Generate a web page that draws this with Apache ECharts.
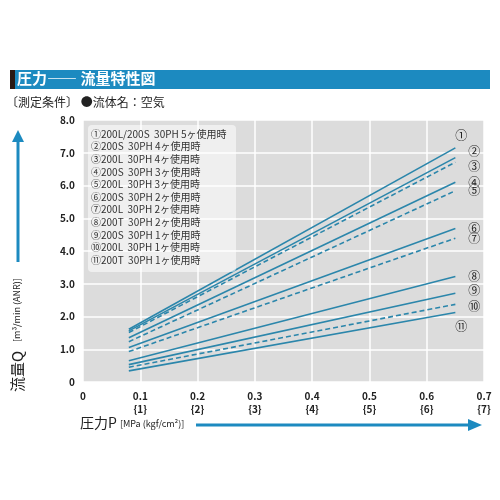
<!DOCTYPE html>
<html><head><meta charset="utf-8">
<script src="https://cdn.jsdelivr.net/npm/echarts@6/dist/echarts.min.js"></script>
<style>html,body{margin:0;background:#fff}#c{width:500px;height:500px}</style>
</head><body><div id="c"></div>
<script>
var chart = echarts.init(document.getElementById('c'));
var F = '"Noto Sans CJK JP", sans-serif';

var xStart = 0.08, xEnd = 0.65;
var names = ['①','②','③','④','⑤','⑥','⑦','⑧','⑨','⑩','⑪'];
var startQ = [1.61, 1.56, 1.51, 1.35, 1.23, 1.05, 0.93, 0.65, 0.53, 0.45, 0.34];
var endQ = [7.15, 6.85, 6.71, 6.10, 5.84, 4.69, 4.39, 3.22, 2.71, 2.37, 2.12];
var dashed = [false, false, true, false, true, false, true, false, false, true, false];
var legendLines = ['①200L/200S  30PH 5ヶ使用時','②200S  30PH 4ヶ使用時','③200L  30PH 4ヶ使用時',
  '④200S  30PH 3ヶ使用時','⑤200L  30PH 3ヶ使用時','⑥200S  30PH 2ヶ使用時','⑦200L  30PH 2ヶ使用時',
  '⑧200T  30PH 2ヶ使用時','⑨200S  30PH 1ヶ使用時','⑩200L  30PH 1ヶ使用時','⑪200T  30PH 1ヶ使用時'];

var color = '#2b86ab';
var offsets = { 0: [-8, -12], 1: [5, -6], 2: [5, 4], 8: [5, -3], 9: [5, 2], 10: [-8, 14] };
var series = names.map(function (n, i) {
  return {
    name: n, type: 'line', showSymbol: false, silent: true,
    data: [[xStart, startQ[i]], [xEnd, endQ[i]]],
    lineStyle: { color: color, width: 1.6, type: dashed[i] ? [5, 3] : 'solid' },
    endLabel: { show: true, formatter: n, offset: offsets[i] || [5, 0], color: '#222', fontSize: 12, fontFamily: F }
  };
});

var gfx = [
  { type: 'rect', shape: { x: 10, y: 70, width: 480, height: 19 }, style: { fill: '#1c8ac0' } },
  { type: 'rect', shape: { x: 10, y: 70, width: 5, height: 19 }, style: { fill: '#2a1a14' } },
  { type: 'text', x: 17, y: 71, style: { text: '圧力―― 流量特性図', fill: '#fff', font: 'bold 15px ' + F } },
  { type: 'text', x: 6, y: 96, style: { text: '〔測定条件〕 ●流体名：空気', fill: '#222', font: '12px ' + F } },
  { type: 'rect', shape: { x: 88, y: 125, width: 148, height: 147, r: 4 }, style: { fill: 'rgba(255,255,255,0.55)' }, z: 5 },
  { type: 'line', shape: { x1: 18, y1: 262, x2: 18, y2: 140 }, style: { stroke: '#1c8ac0', lineWidth: 3 } },
  { type: 'polygon', shape: { points: [[12, 142], [24, 142], [18, 130]] }, style: { fill: '#1c8ac0' } },
  { type: 'text', x: 10, y: 392, rotation: Math.PI / 2, style: { text: '流量Q', fill: '#222', font: '15px ' + F } },
  { type: 'text', x: 12, y: 342, rotation: Math.PI / 2, style: { text: '[m³/min (ANR)]', fill: '#222', font: '9px ' + F } },
  { type: 'text', x: 80, y: 416, style: { text: '圧力P', fill: '#222', font: '14px ' + F } },
  { type: 'text', x: 120, y: 419, style: { text: '[MPa (kgf/cm²)]', fill: '#222', font: '9px ' + F } },
  { type: 'line', shape: { x1: 196, y1: 425, x2: 470, y2: 425 }, style: { stroke: '#1c8ac0', lineWidth: 3 } },
  { type: 'polygon', shape: { points: [[468, 419], [468, 431], [482, 425]] }, style: { fill: '#1c8ac0' } }
];
legendLines.forEach(function (t, i) {
  gfx.push({ type: 'text', x: 91, y: 129 + i * 12.6, z: 6, style: { text: t, fill: '#333', font: '10px ' + F } });
});

chart.setOption({
  animation: false,
  grid: { left: 83, right: 16, top: 120, bottom: 118, backgroundColor: '#dcdcdc', show: true, borderWidth: 0 },
  xAxis: {
    type: 'value', min: 0, max: 0.7, interval: 0.1,
    axisLine: { show: false }, axisTick: { show: false },
    splitLine: { lineStyle: { color: '#fff', width: 1.5 } },
    axisLabel: {
      color: '#222', fontWeight: 'bold', fontSize: 10, fontFamily: F, lineHeight: 13,
      formatter: function (v) { var k = Math.round(v * 10); return k === 0 ? '0' : v.toFixed(1) + '\n{' + k + '}'; }
    }
  },
  yAxis: {
    type: 'value', min: 0, max: 8, interval: 1,
    axisLine: { show: false }, axisTick: { show: false },
    splitLine: { lineStyle: { color: '#fff', width: 1.5 } },
    axisLabel: { color: '#222', fontWeight: 'bold', fontSize: 10, fontFamily: F, formatter: function (v) { return v === 0 ? '0' : v.toFixed(1); } }
  },
  graphic: gfx,
  series: series
});
</script></body></html>
